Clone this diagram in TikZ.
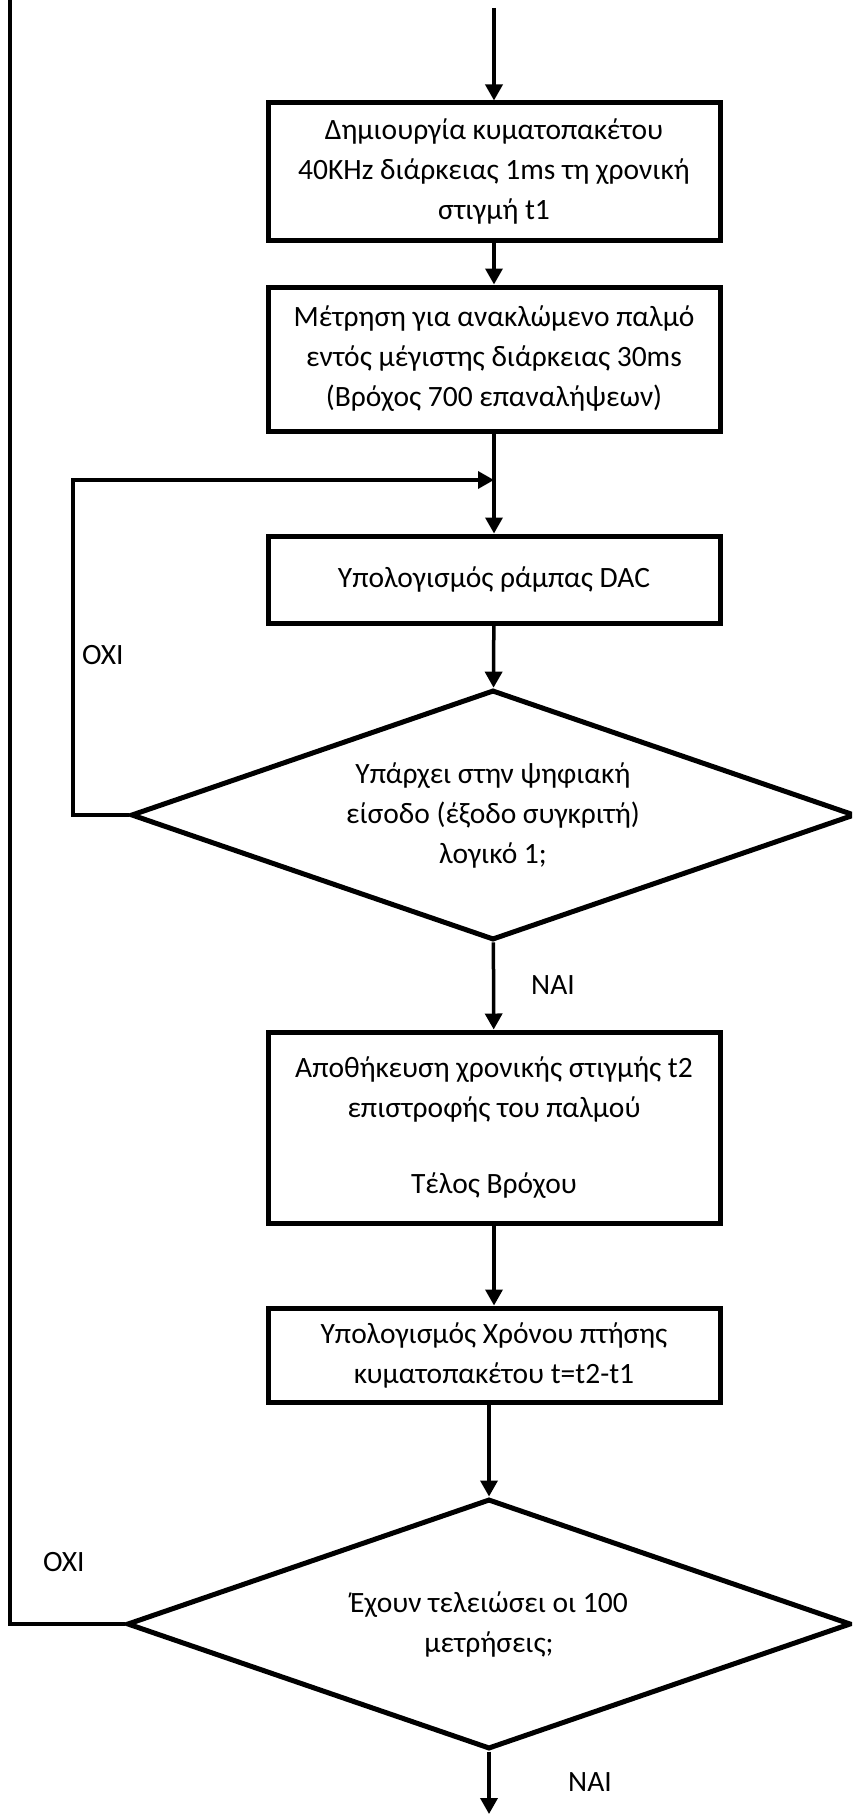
\documentclass[tikz,border=0pt]{standalone}
\usepackage{fontspec}
\setmainfont{Carlito}
\usetikzlibrary{arrows.meta,shapes.geometric}
\begin{document}
\begin{tikzpicture}[x=1pt,y=-1pt,
  every node/.style={font=\fontsize{29.5}{40}\selectfont},
  stepbox/.style={draw,line width=5pt,minimum width=452pt,align=center,inner sep=0pt},
  decision/.style={draw,shape=diamond,line width=5pt,aspect=2.87,
    minimum width=724pt,minimum height=250pt,align=center,inner sep=0pt},
  flow/.style={line width=3.5pt,-{Triangle[length=16pt,width=17pt]}},
  plain/.style={line width=3.5pt},
  lbl/.style={anchor=west,inner sep=0pt}]
  % page frame
  \useasboundingbox (0,0) rectangle (852,1814);
  \clip (0,0) rectangle (852,1814);
  \fill[white] (0,0) rectangle (852,1814);

  % process steps
  \node[stepbox,minimum height=137pt] (b1) at (494,171.5)
    {Δημιουργία κυματοπακέτου\\40KHz διάρκειας 1ms τη χρονική\\στιγμή t1};
  \node[stepbox,minimum height=144pt] (b2) at (494,359)
    {Μέτρηση για ανακλώμενο παλμό\\εντός μέγιστης διάρκειας 30ms\\(Βρόχος 700 επαναλήψεων)};
  \node[stepbox,minimum height=87pt] (b3) at (494,579.5)
    {Υπολογισμός ράμπας DAC};
  \node[decision] (d1) at (493,815)
    {Υπάρχει στην ψηφιακή\\είσοδο (έξοδο συγκριτή)\\λογικό 1;};
  \node[stepbox,minimum height=191pt] (b4) at (494,1127.5)
    {Αποθήκευση χρονικής στιγμής t2\\επιστροφής του παλμού\\[36pt]Τέλος Βρόχου};
  \node[stepbox,minimum height=94pt] (b5) at (494,1355)
    {Υπολογισμός Χρόνου πτήσης\\κυματοπακέτου t=t2-t1};
  \node[decision] (d2) at (489,1624)
    {Έχουν τελειώσει οι 100\\μετρήσεις;};

  % branch labels
  \node[lbl] (no1) at (82,655) {ΟΧΙ};
  \node[lbl] (yes1) at (531,985) {ΝΑΙ};
  \node[lbl] (no2) at (43,1562) {ΟΧΙ};
  \node[lbl] (yes2) at (568,1782) {ΝΑΙ};

  % free ends and bends
  \coordinate (entry) at (494,8);
  \coordinate (merge) at (494,480);
  \coordinate (loopc) at (73,480);
  \coordinate (outer) at (10,0);
  \coordinate (exit) at (489,1814);

  % connectors
  \draw[flow] (entry) -- (b1);
  \draw[flow] (b1) -- (b2);
  \draw[flow] (b2) -- (b3);
  \draw[flow] (b3) -- (d1);
  \draw[flow] (d1.west) -| (loopc) -- (merge);
  \draw[flow] (d1) -- (b4);
  \draw[flow] (b4) -- (b5);
  \draw[flow] (b5.south -| d2.north) -- (d2.north);
  \draw[plain] (d2.west) -| (outer);
  \draw[flow] (d2) -- (exit);
\end{tikzpicture}
\end{document}
